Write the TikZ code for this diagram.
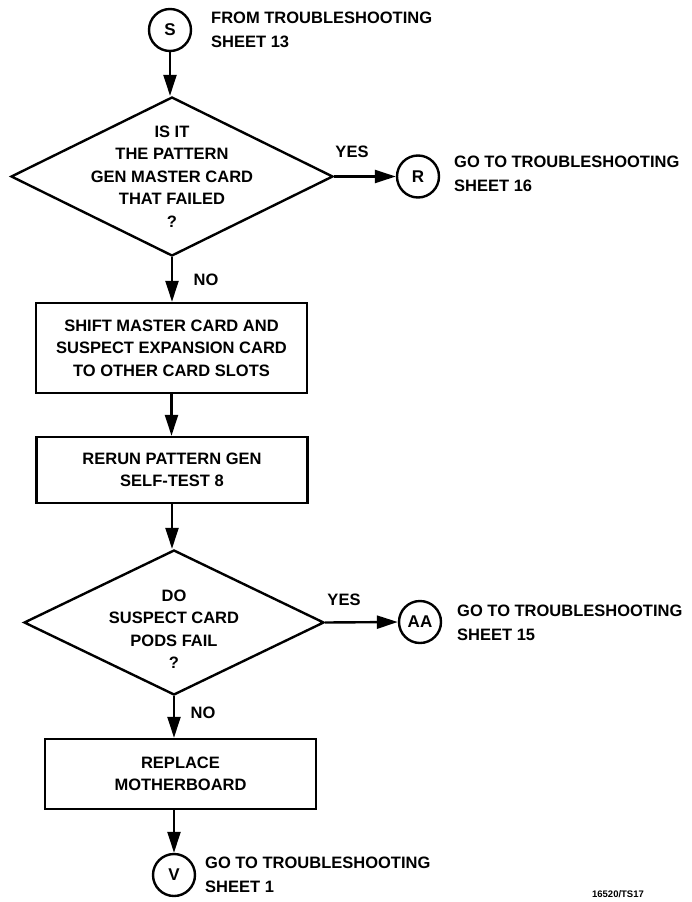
\documentclass[tikz,border=0pt]{standalone}
\usepackage{fontspec}
\setmainfont{Liberation Sans}
\usetikzlibrary{arrows.meta,shapes.geometric}

\begin{document}
\begin{tikzpicture}[x=1pt,y=-1pt,>={Triangle[length=21pt,width=13pt]},line width=2.4pt,
  font=\bfseries\fontsize{16.5pt}{22.5pt}\selectfont,
  decision/.style={draw,diamond,inner sep=0pt},
  stepbox/.style={draw,rectangle,inner sep=0pt,align=center,minimum width=271pt},
  connector/.style={draw,circle,minimum size=42pt,inner sep=0pt,font=\bfseries\fontsize{17pt}{18pt}\selectfont},
  note/.style={anchor=west,align=left,inner sep=0pt,font=\bfseries\fontsize{16.5pt}{24pt}\selectfont},
  txt/.style={align=center,inner sep=0pt}]
\useasboundingbox (0,0) rectangle (691,902);
% off-page connectors
\node[connector] (s) at (170,30) {S};
\node[connector] (r) at (418,176.5) {R};
\node[connector] (aa) at (420,622) {AA};
\node[connector] (v) at (174,875) {V};
\node[note] (stext) at (210,29.5) {FROM TROUBLESHOOTING\\SHEET 13};
\node[note] (rtext) at (453,174) {GO TO TROUBLESHOOTING\\SHEET 16};
\node[note] (aatext) at (456,623) {GO TO TROUBLESHOOTING\\SHEET 15};
\node[note] (vtext) at (204,875) {GO TO TROUBLESHOOTING\\SHEET 1};
% decisions
\node[decision,minimum width=322pt,minimum height=159pt] (q1) at (172,176.5) {};
\node[txt] (q1text) at (172,176.5) {IS IT\\THE PATTERN\\GEN MASTER CARD\\THAT FAILED\\?};
\node[decision,minimum width=300pt,minimum height=145pt] (q2) at (174,622.5) {};
\node[txt] (q2text) at (174,629) {DO\\SUSPECT CARD\\PODS FAIL\\?};
% steps
\node[stepbox,minimum height=90pt] (shift) at (171.5,348) {SHIFT MASTER CARD AND\\SUSPECT EXPANSION CARD\\TO OTHER CARD SLOTS};
\node[stepbox,minimum height=66pt] (rerun) at (172,470) {RERUN PATTERN GEN\\SELF-TEST 8};
\node[stepbox,minimum height=70pt] (replace) at (180.5,774) {REPLACE\\MOTHERBOARD};
% branch labels
\node (yes1) at (352,152) {YES};
\node (no1) at (206,280) {NO};
\node (yes2) at (344,600) {YES};
\node (no2) at (203,713) {NO};
\node[font=\bfseries\fontsize{9.5pt}{10pt}\selectfont] (figno) at (618,894) {16520/TS17};
% flow
\draw[->] (s.south) -- (s.south |- q1.north);
\draw[->] (q1.east) -- (r.west);
\draw[->] (q1.south) -- (q1.south |- shift.north);
\draw[->] (shift.south) -- (shift.south |- rerun.north);
\draw[->] (rerun.south) -- (rerun.south |- q2.north);
\draw[->] (q2.east) -- (aa.west);
\draw[->] (q2.south) -- (q2.south |- replace.north);
\draw[->] (v.north |- replace.south) -- (v.north);
\end{tikzpicture}
\end{document}
